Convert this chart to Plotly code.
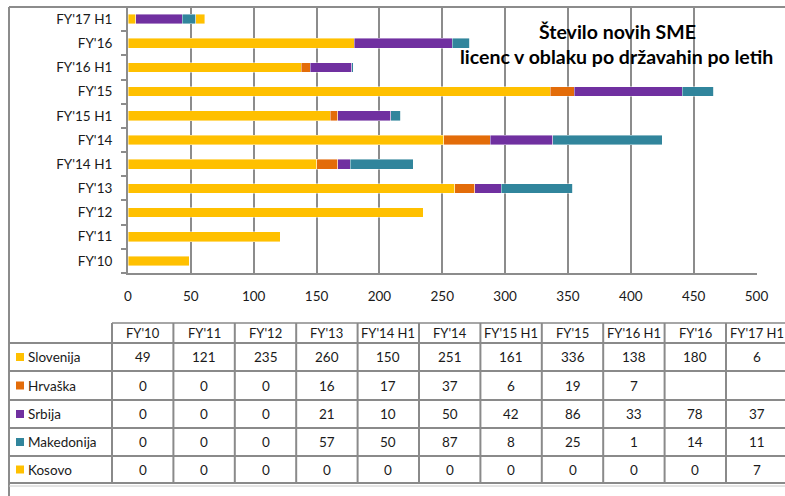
import plotly.graph_objects as go

W, H = 785, 496

categories = ["FY'10", "FY'11", "FY'12", "FY'13", "FY'14 H1", "FY'14",
              "FY'15 H1", "FY'15", "FY'16 H1", "FY'16", "FY'17 H1"]
series_names = ["Slovenija", "Hrvaška", "Srbija", "Makedonija", "Kosovo"]
slovenija = [49, 121, 235, 260, 150, 251, 161, 336, 138, 180, 6]
hrvaska = [0, 0, 0, 16, 17, 37, 6, 19, 7, None, None]
srbija = [0, 0, 0, 21, 10, 50, 42, 86, 33, 78, 37]
makedonija = [0, 0, 0, 57, 50, 87, 8, 25, 1, 14, 11]
kosovo = [0, 0, 0, 0, 0, 0, 0, 0, 0, 0, 7]
x_ticks = [0, 50, 100, 150, 200, 250, 300, 350, 400, 450, 500]
colors = ["#FFC000", "#E36C09", "#7030A0", "#31859C", "#FFC000"]
title_lines = ["Število novih SME", "licenc v oblaku po državahin po letih"]

values = [slovenija, hrvaska, srbija, makedonija, kosovo]
FONT = "Lato"
GRID = "#8c8c8c"


def px(x):
    return min(max(x, 0), W) / W


def py(y):
    return 1 - min(max(y, 0), H) / H


fig = go.Figure()
for name, vals, col in zip(series_names, values, colors):
    fig.add_trace(go.Bar(
        y=categories, x=vals, name=name, orientation="h",
        marker=dict(color=col, line=dict(width=0.6, color="rgba(255,255,255,0.7)")),
        showlegend=False,
    ))

# plot area in pixels
PL, PR, PT, PB = 128, 756.5, 7, 273

shapes = []
annotations = []

# outer frame lines (top and left)
shapes.append(dict(type="line", xref="paper", yref="paper",
                   x0=px(9), x1=px(W), y0=py(7), y1=py(7),
                   line=dict(color=GRID, width=2)))
shapes.append(dict(type="line", xref="paper", yref="paper",
                   x0=px(9), x1=px(9), y0=py(7), y1=py(H),
                   line=dict(color=GRID, width=2)))

# table geometry
label_right = 112
col_w = 61.4
header_top, header_bot = 323, 343
row_edges = [343, 371, 400, 428, 456, 483]
ncol = len(categories)
col_edges = [label_right + i * col_w for i in range(ncol + 1)]
TB = "#8a8a8a"

# horizontal lines
shapes.append(dict(type="line", xref="paper", yref="paper",
                   x0=px(label_right), x1=px(W), y0=py(header_top), y1=py(header_top),
                   line=dict(color="#a6a6a6", width=2)))
for ye in row_edges:
    shapes.append(dict(type="line", xref="paper", yref="paper",
                       x0=px(9), x1=px(W), y0=py(ye), y1=py(ye),
                       line=dict(color=TB, width=2)))
shapes.append(dict(type="line", xref="paper", yref="paper",
                   x0=px(9), x1=px(W), y0=py(486), y1=py(486),
                   line=dict(color="#c8c8c8", width=1)))
# vertical lines
for xe in col_edges:
    if xe > W:
        continue
    shapes.append(dict(type="line", xref="paper", yref="paper",
                       x0=px(xe), x1=px(xe), y0=py(header_top), y1=py(row_edges[-1]),
                       line=dict(color=TB, width=2)))

# header text
for i, c in enumerate(categories):
    cx = label_right + (i + 0.5) * col_w
    annotations.append(dict(xref="paper", yref="paper", x=px(cx), y=py((header_top + header_bot) / 2),
                            text=c, showarrow=False, xanchor="center", yanchor="middle",
                            font=dict(family=FONT, size=13, color="#1a1a1a")))

# rows
for r, (name, vals, col) in enumerate(zip(series_names, values, colors)):
    yc = (row_edges[r] + row_edges[r + 1]) / 2
    shapes.append(dict(type="rect", xref="paper", yref="paper",
                       x0=px(16), x1=px(24), y0=py(yc - 4), y1=py(yc + 4),
                       fillcolor=col, line=dict(width=0)))
    annotations.append(dict(xref="paper", yref="paper", x=px(26), y=py(yc),
                            text=name, showarrow=False, xanchor="left", yanchor="middle",
                            font=dict(family=FONT, size=13.5, color="#1a1a1a")))
    for i, v in enumerate(vals):
        if v is None:
            continue
        cx = label_right + (i + 0.5) * col_w
        annotations.append(dict(xref="paper", yref="paper", x=px(cx), y=py(yc),
                                text=str(v), showarrow=False, xanchor="center", yanchor="middle",
                                font=dict(family=FONT, size=13.5, color="#1a1a1a")))

# title
annotations.append(dict(xref="paper", yref="paper", x=px(617), y=py(31),
                        text="<b>" + title_lines[0] + "</b>", showarrow=False,
                        xanchor="center", yanchor="middle",
                        font=dict(family=FONT, size=19.5, color="#000000")))
annotations.append(dict(xref="paper", yref="paper", x=px(616.5), y=py(57),
                        text="<b>" + title_lines[1] + "</b>", showarrow=False,
                        xanchor="center", yanchor="middle",
                        font=dict(family=FONT, size=19.5, color="#000000")))

fig.update_layout(
    width=W, height=H, autosize=False,
    margin=dict(l=0, r=0, t=0, b=0, autoexpand=False),
    paper_bgcolor="white", plot_bgcolor="white",
    barmode="stack", bargap=0.6,
    shapes=shapes, annotations=annotations,
    xaxis=dict(domain=[px(PL), px(PR)], range=[0, 500], tickvals=x_ticks,
               automargin=False,
               showgrid=True, gridcolor=GRID, gridwidth=2,
               showline=True, linecolor=GRID, linewidth=2,
               zeroline=False, ticks="", ticklabelstandoff=10,
               tickfont=dict(family=FONT, size=13.5, color="#1a1a1a"),
               fixedrange=True),
    yaxis=dict(domain=[py(PB), py(PT)], type="category",
               categoryorder="array", categoryarray=categories,
               automargin=False,
               showline=True, linecolor=GRID, linewidth=2,
               showgrid=False, zeroline=False,
               ticks="outside", tickson="boundaries", ticklen=5, tickcolor=GRID, tickwidth=2,
               ticklabelstandoff=11,
               tickfont=dict(family=FONT, size=13.5, color="#1a1a1a"),
               fixedrange=True),
)

fig.write_html("out.html",
               config={"displayModeBar": False, "staticPlot": True, "responsive": False},
               post_script="document.body.style.margin='0';document.body.style.overflow='hidden';"
                           "document.documentElement.style.overflow='hidden';")
